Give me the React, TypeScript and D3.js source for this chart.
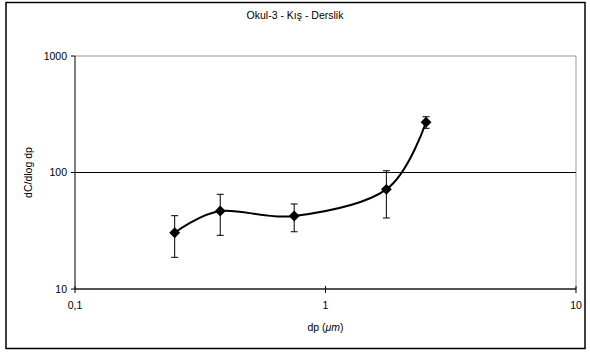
import React from "react";
import * as d3 from "d3";

// Particle size distribution, classroom, winter (school 3)
const diameters = [0.25, 0.38, 0.75, 1.75, 2.52];
const meanValues = [30.4, 46.7, 42.3, 71.7, 270];
const upperValues = [42.6, 65, 53.7, 103.5, 301];
const lowerValues = [18.7, 28.9, 31, 40.7, 239.5];
const yTicks = [10, 100, 1000];
const xTicks = [0.1, 1, 10];
const xTickLabels = ["0,1", "1", "10"];

const W = 590;
const H = 353;
const FONT = "Arial, 'Liberation Sans', sans-serif";

export default function App() {
  const left = 75;
  const right = 576;
  const top = 56;
  const bottom = 289;

  const x = d3.scaleLog().domain([0.1, 10]).range([left, right]);
  const y = d3.scaleLog().domain([10, 1000]).range([bottom, top]);

  const pts = diameters.map((d, i) => [x(d), y(meanValues[i])] as [number, number]);
  const line = d3.line().curve(d3.curveCardinal.tension(0))(pts) || "";
  const diamond = d3.symbol().type(d3.symbolDiamond2).size(75)() || "";

  return (
    <svg
      width={W}
      height={H}
      style={{ position: "absolute", left: 0, top: 0, background: "#fff" }}
      fontFamily={FONT}
    >
      <rect x={6} y={2.5} width={579} height={346} fill="#fff" stroke="#000" strokeWidth={1.5} />
      <text x={295} y={19} textAnchor="middle" fontSize={10.5}>
        Okul-3 - Kış - Derslik
      </text>

      {/* plot frame */}
      <line x1={left} x2={right} y1={top} y2={top} stroke="#999" strokeWidth={1} />
      <line x1={right} x2={right} y1={top} y2={bottom} stroke="#999" strokeWidth={1} />

      {/* gridline */}
      {yTicks
        .filter((t) => t !== 10 && t !== 1000)
        .map((t) => (
          <line key={t} x1={left} x2={right} y1={y(t)} y2={y(t)} stroke="#000" strokeWidth={1} />
        ))}

      {/* y axis */}
      <line x1={left} x2={left} y1={top} y2={bottom} stroke="#000" strokeWidth={1} />
      {yTicks.map((t) => (
        <g key={t}>
          <line x1={left - 4} x2={left} y1={y(t)} y2={y(t)} stroke="#000" />
          <text x={left - 8} y={y(t) + 3.5} textAnchor="end" fontSize={10.5}>
            {t}
          </text>
        </g>
      ))}

      {/* x axis */}
      <line x1={left} x2={right} y1={bottom} y2={bottom} stroke="#555" strokeWidth={2} />
      {xTicks.map((t, i) => (
        <g key={t}>
          <line x1={x(t)} x2={x(t)} y1={bottom - 3} y2={bottom + 4} stroke="#000" />
          <text x={x(t)} y={bottom + 20} textAnchor="middle" fontSize={10.5}>
            {xTickLabels[i]}
          </text>
        </g>
      ))}

      <text x={(left + right) / 2} y={bottom + 42} textAnchor="middle" fontSize={10.5}>
        dp (<tspan fontStyle="italic">μm</tspan>)
      </text>
      <text
        transform={`translate(32,${(top + bottom) / 2}) rotate(-90)`}
        textAnchor="middle"
        fontSize={10.5}
      >
        dC/dlog dp
      </text>

      {/* error bars */}
      {diameters.map((d, i) => {
        const cx = x(d);
        return (
          <g key={i} stroke="#000" strokeWidth={1}>
            <line x1={cx} x2={cx} y1={y(upperValues[i])} y2={y(lowerValues[i])} />
            <line x1={cx - 3.5} x2={cx + 3.5} y1={y(upperValues[i])} y2={y(upperValues[i])} />
            <line x1={cx - 3.5} x2={cx + 3.5} y1={y(lowerValues[i])} y2={y(lowerValues[i])} />
          </g>
        );
      })}

      <path d={line} fill="none" stroke="#000" strokeWidth={2} />

      {pts.map(([px, py], i) => (
        <path key={i} d={diamond} transform={`translate(${px},${py})`} fill="#000" />
      ))}
    </svg>
  );
}
